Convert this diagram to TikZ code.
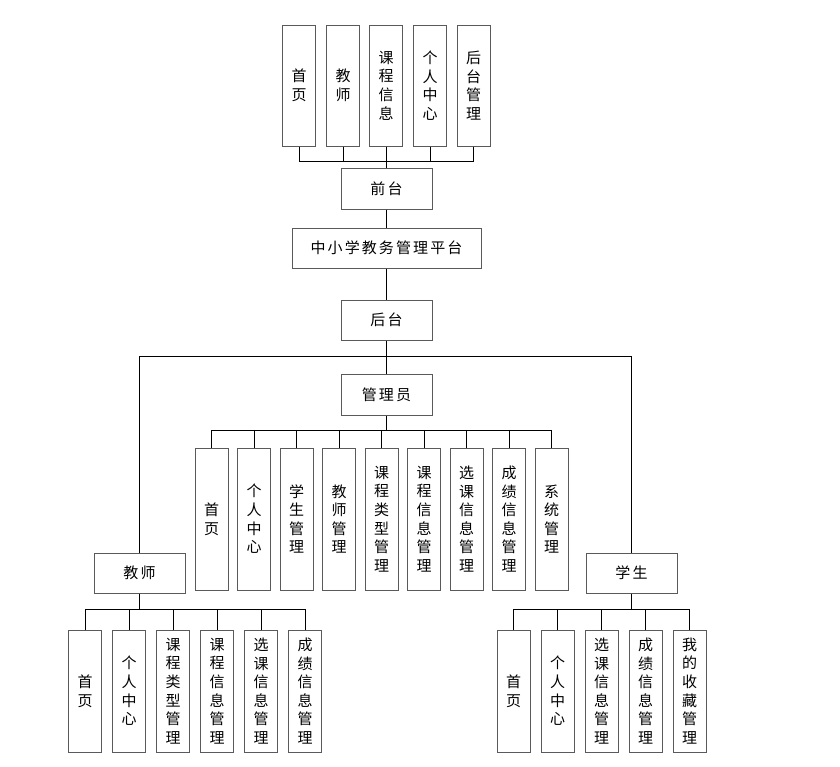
\documentclass[tikz,border=0pt]{standalone}
\usepackage{fontspec}
\usepackage{tikz}
\usetikzlibrary{positioning,calc}
\newfontfamily\cjk{Noto Sans CJK SC}
\newfontfamily\cjkwide[LetterSpace=14]{Noto Sans CJK SC}
\definecolor{boxgray}{RGB}{90,90,90}
\tikzset{
    hbox/.style={
        rectangle,
        draw=boxgray,
        line width=1pt,
        minimum width=91pt,
        minimum height=41pt,
        inner sep=0pt,
        font=\cjkwide\fontsize{15}{18}\selectfont
    },
    vbox/.style={
        rectangle,
        draw=boxgray,
        line width=1pt,
        minimum width=33pt,
        inner sep=0pt,
        text width=15pt,
        align=center,
        font=\cjk\fontsize{15}{18.6}\selectfont
    },
    topbox/.style={
        vbox,
        minimum height=121pt
    },
    adminbox/.style={
        vbox,
        minimum height=142pt
    },
    leafbox/.style={
        vbox,
        minimum height=122pt
    },
    link/.style={
        draw=black,
        line width=0.8pt
    }
}

\begin{document}
\begin{tikzpicture}[x=1pt,y=-1pt]
    \useasboundingbox (0,0) rectangle (840,766);

    % Front-end pages
    \node[topbox] (f1) at (299,85.5) {首\\页};
    \node[topbox] (f2) at (343,85.5) {教\\师};
    \node[topbox] (f3) at (386,85.5) {课\\程\\信\\息};
    \node[topbox] (f4) at (430,85.5) {个\\人\\中\\心};
    \node[topbox] (f5) at (473.5,85.5) {后\\台\\管\\理};

    % Main chain
    \node[hbox] (qiantai) at (386.5,188.5) {前台};
    \node[hbox, minimum width=189pt, minimum height=40pt] (platform) at (386.5,248) {中小学教务管理平台};
    \node[hbox, minimum height=40pt] (houtai) at (386.5,320) {后台};
    \node[hbox] (admin) at (386.5,394.5) {管理员};

    % Roles
    \node[hbox, minimum height=40pt] (teacher) at (139.5,573) {教师};
    \node[hbox, minimum height=40pt] (student) at (631.5,573) {学生};

    % Front-end connections
    \coordinate (fbus) at (386.5,161);
    \draw[link] (f1.south) |- (fbus);
    \draw[link] (f2.south) |- (fbus);
    \draw[link] (f3.south) |- (fbus);
    \draw[link] (f4.south) |- (fbus);
    \draw[link] (f5.south) |- (fbus);
    \draw[link] (fbus) -- (qiantai.north);
    \draw[link] (qiantai) -- (platform);
    \draw[link] (platform) -- (houtai);
    \draw[link] (houtai) -- (admin);

    % Back-end roles
    \coordinate (rbus) at (386.5,356);
    \draw[link] (rbus) -| (teacher.north);
    \draw[link] (rbus) -| (student.north);

    % Administrator pages
    \node[adminbox] (a1) at (211.5,519) {首\\页};
    \node[adminbox] (a2) at (254,519) {个\\人\\中\\心};
    \node[adminbox] (a3) at (296.5,519) {学\\生\\管\\理};
    \node[adminbox] (a4) at (339,519) {教\\师\\管\\理};
    \node[adminbox] (a5) at (381.5,519) {课\\程\\类\\型\\管\\理};
    \node[adminbox] (a6) at (424,519) {课\\程\\信\\息\\管\\理};
    \node[adminbox] (a7) at (466.5,519) {选\\课\\信\\息\\管\\理};
    \node[adminbox] (a8) at (509,519) {成\\绩\\信\\息\\管\\理};
    \node[adminbox] (a9) at (551.5,519) {系\\统\\管\\理};

    \coordinate (abus) at (386.5,430);
    \draw[link] (admin.south) -- (abus);
    \draw[link] (a1.north) |- (abus);
    \draw[link] (a2.north) |- (abus);
    \draw[link] (a3.north) |- (abus);
    \draw[link] (a4.north) |- (abus);
    \draw[link] (a5.north) |- (abus);
    \draw[link] (a6.north) |- (abus);
    \draw[link] (a7.north) |- (abus);
    \draw[link] (a8.north) |- (abus);
    \draw[link] (a9.north) |- (abus);

    % Teacher pages
    \node[leafbox] (t1) at (85,691) {首\\页};
    \node[leafbox] (t2) at (129,691) {个\\人\\中\\心};
    \node[leafbox] (t3) at (173,691) {课\\程\\类\\型\\管\\理};
    \node[leafbox] (t4) at (217,691) {课\\程\\信\\息\\管\\理};
    \node[leafbox] (t5) at (261,691) {选\\课\\信\\息\\管\\理};
    \node[leafbox] (t6) at (305,691) {成\\绩\\信\\息\\管\\理};

    \coordinate (tbus) at (139.5,609);
    \draw[link] (teacher.south) -- (tbus);
    \draw[link] (t1.north) |- (tbus);
    \draw[link] (t2.north) |- (tbus);
    \draw[link] (t3.north) |- (tbus);
    \draw[link] (t4.north) |- (tbus);
    \draw[link] (t5.north) |- (tbus);
    \draw[link] (t6.north) |- (tbus);

    % Student pages
    \node[leafbox] (s1) at (513.5,691) {首\\页};
    \node[leafbox] (s2) at (557.5,691) {个\\人\\中\\心};
    \node[leafbox] (s3) at (601.5,691) {选\\课\\信\\息\\管\\理};
    \node[leafbox] (s4) at (645.5,691) {成\\绩\\信\\息\\管\\理};
    \node[leafbox] (s5) at (689.5,691) {我\\的\\收\\藏\\管\\理};

    \coordinate (sbus) at (631.5,609);
    \draw[link] (student.south) -- (sbus);
    \draw[link] (s1.north) |- (sbus);
    \draw[link] (s2.north) |- (sbus);
    \draw[link] (s3.north) |- (sbus);
    \draw[link] (s4.north) |- (sbus);
    \draw[link] (s5.north) |- (sbus);
\end{tikzpicture}
\end{document}
